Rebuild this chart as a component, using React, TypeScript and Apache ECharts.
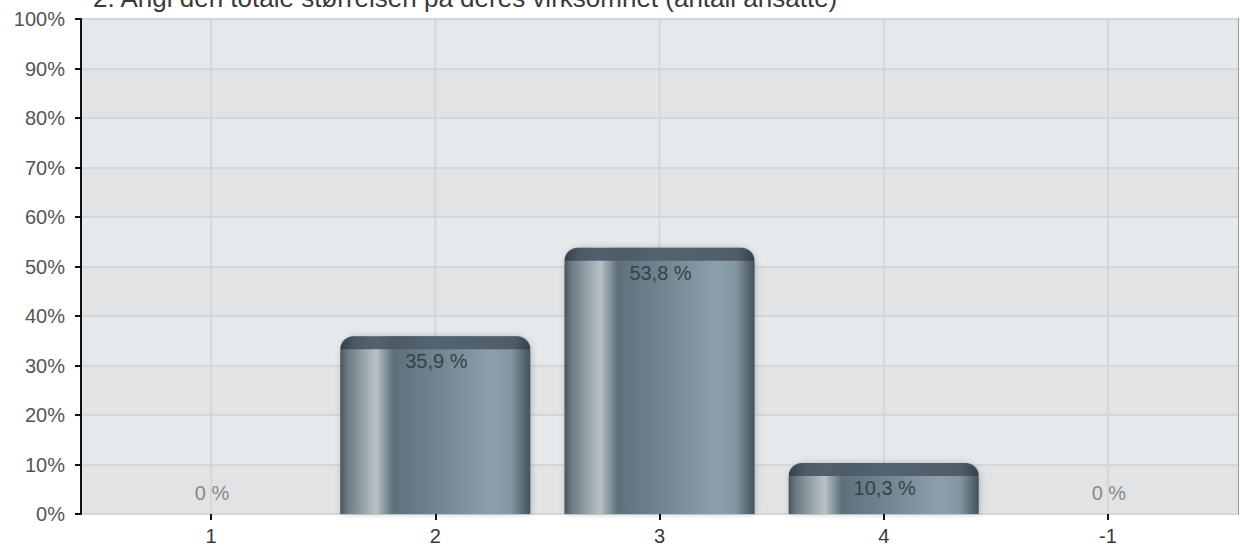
import React, { useEffect, useRef } from 'react';
import * as echarts from 'echarts';

// Survey answer: company size buckets and share of respondents (%)
const categories = ['1', '2', '3', '4', '-1'];
const shares = [0, 35.9, 53.8, 10.3, 0];
const axisMin = 0;
const axisMax = 100;
const axisStep = 10;
const chartTitle = '2. Angi den totale størrelsen på deres virksomhet (antall ansatte)';

const FONT = '"Liberation Sans", Arial, Helvetica, sans-serif';

const formatShare = (v: number) =>
  v === 0 ? '0 %' : v.toFixed(1).replace('.', ',') + ' %';

// Horizontal shading that gives the bars their cylinder look
const barFill = new echarts.graphic.LinearGradient(0, 0, 1, 0, [
  { offset: 0, color: '#48565f' },
  { offset: 0.04, color: '#6c7b85' },
  { offset: 0.12, color: '#97a3aa' },
  { offset: 0.19, color: '#b9c2c7' },
  { offset: 0.23, color: '#8d9ba3' },
  { offset: 0.28, color: '#5f707b' },
  { offset: 0.5, color: '#70838e' },
  { offset: 0.8, color: '#8c9fab' },
  { offset: 0.9, color: '#8296a2' },
  { offset: 0.96, color: '#5c6c76' },
  { offset: 1, color: '#44525c' },
]);

const capFill = new echarts.graphic.LinearGradient(0, 0, 1, 0, [
  { offset: 0, color: 'rgba(48,60,70,0.9)' },
  { offset: 0.08, color: 'rgba(70,84,95,0.9)' },
  { offset: 0.5, color: 'rgba(78,94,106,0.88)' },
  { offset: 0.92, color: 'rgba(72,86,97,0.9)' },
  { offset: 1, color: 'rgba(48,60,70,0.9)' },
]);

export default function App() {
  const ref = useRef<HTMLDivElement>(null);

  useEffect(() => {
    if (!ref.current) return;
    const chart = echarts.init(ref.current, undefined, { renderer: 'svg' });

    const option: any = {
      animation: false,
      backgroundColor: '#ffffff',
      textStyle: { fontFamily: FONT },
      graphic: [
        {
          type: 'text',
          x: 93,
          y: -15,
          z: 10,
          style: {
            text: chartTitle,
            font: `26px ${FONT}`,
            fill: '#3a3a3a',
            verticalAlign: 'top',
          },
        },
      ],
      grid: [
        // frame: background bands, value axis and baseline
        {
          left: 81,
          right: 2,
          top: 19,
          bottom: 38,
          show: true,
          borderColor: '#9a9a9a',
          borderWidth: 2,
          backgroundColor: 'transparent',
        },
        // category band holding the bars
        { left: 99, right: 20, top: 19, bottom: 38 },
      ],
      xAxis: [
        {
          gridIndex: 0,
          type: 'value',
          min: 0,
          max: 1,
          axisLine: {
            show: true,
            lineStyle: {
              color: '#111',
              width: 2,
              shadowColor: 'rgba(0,0,0,0.25)',
              shadowBlur: 6,
              shadowOffsetY: 3,
            },
          },
          axisTick: { show: false },
          axisLabel: { show: false },
          splitLine: { show: false },
        },
        {
          gridIndex: 1,
          type: 'category',
          data: categories,
          boundaryGap: true,
          axisLine: { show: false },
          axisTick: {
            show: true,
            alignWithLabel: true,
            length: 6,
            lineStyle: { color: '#111', width: 2 },
          },
          axisLabel: { fontSize: 20, color: '#3a3a3a', margin: 12, fontFamily: FONT },
          splitLine: { show: false },
        },
      ],
      yAxis: [
        {
          gridIndex: 0,
          type: 'value',
          min: axisMin,
          max: axisMax,
          interval: axisStep,
          axisLine: { show: true, lineStyle: { color: '#111', width: 2 } },
          axisTick: { show: true, length: 6, lineStyle: { color: '#111', width: 2 } },
          axisLabel: {
            formatter: '{value}%',
            fontSize: 20,
            color: '#555',
            margin: 16,
            fontFamily: FONT,
          },
          splitLine: { show: true, lineStyle: { color: '#d4d7da', width: 2 } },
          splitArea: { show: true, areaStyle: { color: ['#e2e3e5', '#e6e9ec'] } },
        },
        {
          gridIndex: 1,
          type: 'value',
          min: axisMin,
          max: axisMax,
          show: false,
        },
      ],
      series: [
        {
          // vertical guide lines through each category centre
          type: 'custom',
          xAxisIndex: 1,
          yAxisIndex: 1,
          z: 1,
          silent: true,
          data: categories.map((_, i) => [i, 0]),
          renderItem: (_params: any, api: any) => {
            const i = api.value(0);
            const bottom = api.coord([i, axisMin]);
            const top = api.coord([i, axisMax]);
            return {
              type: 'line',
              shape: { x1: bottom[0], y1: bottom[1], x2: top[0], y2: top[1] },
              style: { stroke: '#d4d7da', lineWidth: 2 },
            };
          },
        },
        {
          type: 'custom',
          xAxisIndex: 1,
          yAxisIndex: 1,
          z: 3,
          data: shares.map((v, i) => [i, v]),
          renderItem: (_params: any, api: any) => {
            const i = api.value(0);
            const v = api.value(1);
            const base = api.coord([i, 0]);
            const top = api.coord([i, v]);
            const bw = api.size([1, 0])[0] * 0.848;
            const x = base[0] - bw / 2;
            const h = base[1] - top[1];
            const children: any[] = [];
            if (h > 0) {
              const r = Math.min(16, h, bw / 2);
              children.push({
                type: 'rect',
                shape: { x, y: top[1], width: bw, height: h, r: [r, r, 0, 0] },
                style: {
                  fill: barFill,
                  shadowBlur: 6,
                  shadowColor: 'rgba(0,0,0,0.22)',
                  shadowOffsetX: 1,
                },
              });
              const capH = Math.min(13, h);
              children.push({
                type: 'rect',
                shape: { x, y: top[1], width: bw, height: capH, r: [r, r, 0, 0] },
                style: { fill: capFill },
              });
            }
            const zero = v === 0;
            children.push({
              type: 'text',
              x: base[0] + 1,
              y: zero ? base[1] - 21 : top[1] + 25,
              style: {
                text: formatShare(v),
                font: `20px ${FONT}`,
                fill: zero ? '#8a8a8a' : '#36424c',
                align: 'center',
                verticalAlign: 'middle',
              },
            });
            return { type: 'group', children };
          },
        },
      ],
    };

    chart.setOption(option);
    return () => chart.dispose();
  }, []);

  return (
    <div
      ref={ref}
      style={{ position: 'absolute', left: 0, top: 0, width: 1240, height: 552, background: '#fff' }}
    />
  );
}
